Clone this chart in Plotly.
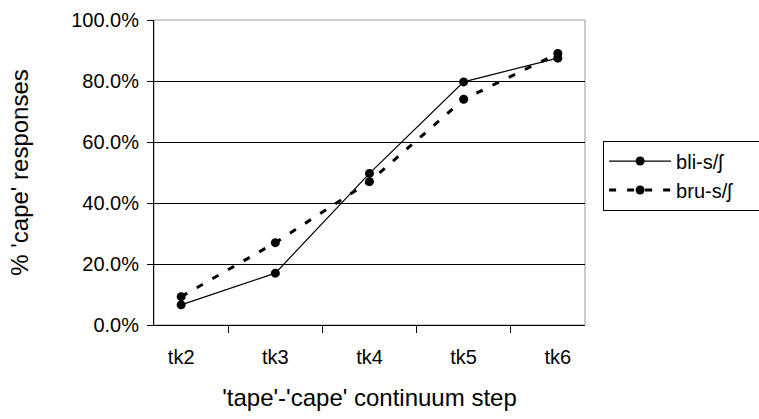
import plotly.graph_objects as go

steps = ["tk2", "tk3", "tk4", "tk5", "tk6"]
bli = [0.066, 0.17, 0.497, 0.797, 0.875]
bru = [0.093, 0.27, 0.47, 0.74, 0.89]

FONT = "Liberation Sans, Arial, sans-serif"
PAD = "\u00a0" * 4
fig = go.Figure()
fig.add_trace(go.Scatter(x=steps, y=bli, name="bli-s/ʃ" + PAD, mode="lines+markers",
                         line=dict(color="black", width=1.2),
                         marker=dict(color="black", size=9), legendgroup="a"))
fig.add_trace(go.Scatter(x=steps, y=bru, name="bru-s/ʃ" + PAD, mode="lines+markers",
                         line=dict(color="black", width=3, dash="7px,11px"),
                         marker=dict(color="black", size=9), legendgroup="b"))

fig.update_layout(
    width=759, height=419,
    margin=dict(l=154, r=174, t=20, b=94, autoexpand=False),
    paper_bgcolor="white", plot_bgcolor="white",
    font=dict(family=FONT, size=20, color="black"),
    showlegend=True,
    legend=dict(x=1.042, xanchor="left", y=0.49, yanchor="middle",
                bordercolor="black", borderwidth=1, tracegroupgap=0,
                itemwidth=62, font=dict(size=20)),
    xaxis=dict(title=dict(text="'tape'-'cape' continuum step", standoff=22),
               showline=True, linecolor="black", linewidth=1,
               ticks="outside", ticklen=7, tickcolor="black", tickson="boundaries",
               ticklabelstandoff=14,
               showgrid=False, zeroline=False),
    yaxis=dict(title=dict(text="% 'cape' responses", standoff=35),
               range=[0, 1], tickvals=[0, 0.2, 0.4, 0.6, 0.8, 1.0], tickformat=".1%",
               showline=True, linecolor="black", linewidth=1,
               ticks="outside", ticklen=6, tickcolor="black", ticklabelstandoff=4,
               showgrid=True, gridcolor="black", gridwidth=1, zeroline=False),
)
fig.add_shape(type="rect", xref="paper", yref="paper", x0=0, x1=1, y0=0, y1=1,
              line=dict(color="#999999", width=1), layer="below")
fig.write_html("out.html")
